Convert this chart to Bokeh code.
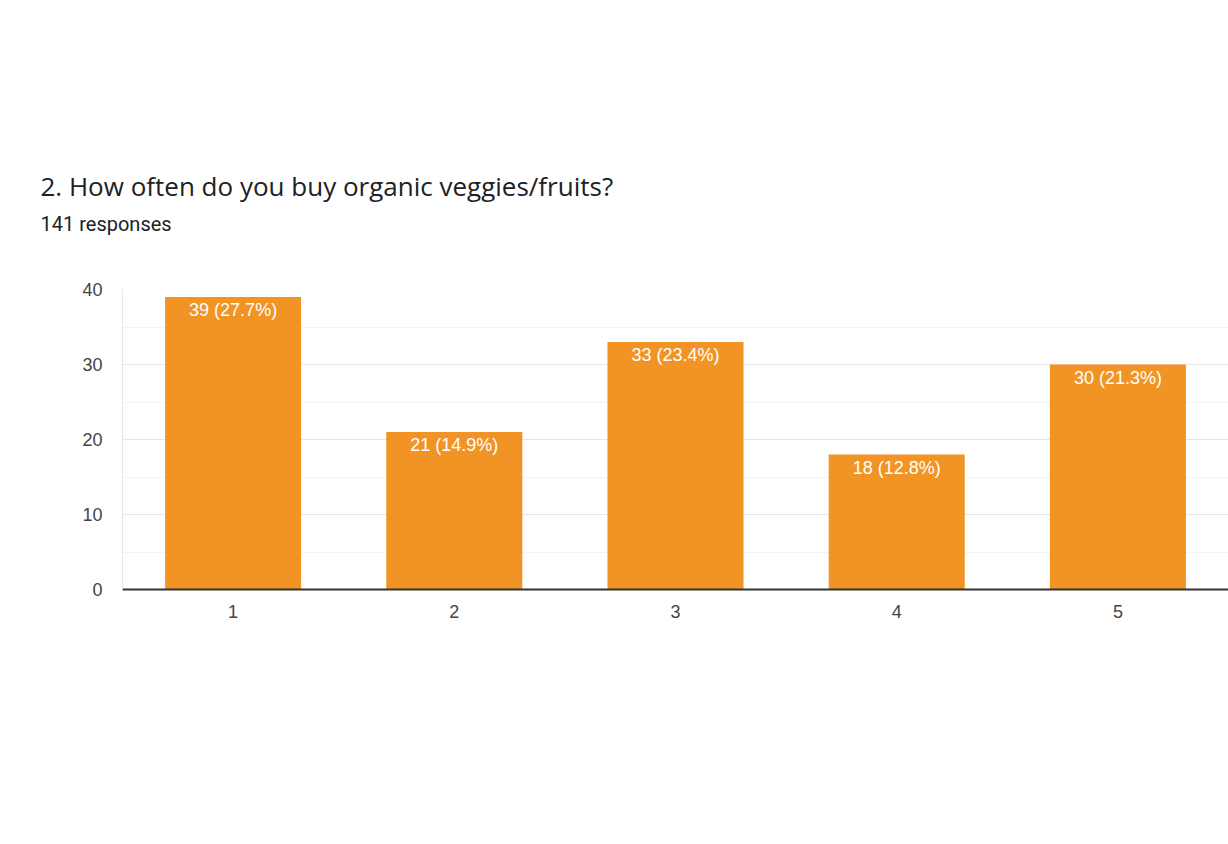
from bokeh.plotting import figure
from bokeh.models import ColumnDataSource, Title, FactorRange, Range1d, FixedTicker
from bokeh.embed import file_html
from bokeh.resources import INLINE

categories = ["1", "2", "3", "4", "5"]
counts = [39, 21, 33, 18, 30]
percents = ["27.7%", "14.9%", "23.4%", "12.8%", "21.3%"]
labels = [f"{c} ({p})" for c, p in zip(counts, percents)]
y_ticks = [0, 10, 20, 30, 40]

title_text = "2. How often do you buy organic veggies/fruits?"
subtitle_text = "141 responses"

src = ColumnDataSource(dict(cat=categories, val=counts, lab=labels))

FRAME_LEFT, FRAME_BOTTOM = 122, 589

p = figure(width=1228, height=844, x_range=FactorRange(*categories, range_padding=0),
           y_range=Range1d(0, 40), output_backend="svg", toolbar_location=None,
           title=None,
           min_border_left=FRAME_LEFT, min_border_right=0, min_border_top=289,
           min_border_bottom=844 - FRAME_BOTTOM)
p.outline_line_color = None

p.vbar(x="cat", top="val", width=0.615, source=src, color="#F29425", line_color=None)
p.text(x="cat", y="val", text="lab", source=src, text_align="center",
       text_baseline="top", y_offset=3, text_color="white",
       text_font_size="18px", text_font={"value": "Liberation Sans"})

p.xgrid.grid_line_color = None
p.ygrid.grid_line_color = "#e6e6e6"
p.ygrid.grid_line_width = 1
p.ygrid.minor_grid_line_color = "#f3f3f3"
p.yaxis.ticker = FixedTicker(ticks=y_ticks, minor_ticks=[5, 15, 25, 35])

for ax in (p.xaxis, p.yaxis):
    ax.major_tick_line_color = None
    ax.minor_tick_line_color = None
    ax.major_label_text_font = "Liberation Sans"
    ax.major_label_text_font_size = "18px"
    ax.major_label_text_color = "#444444"
p.yaxis.axis_line_color = "#e6e6e6"
p.yaxis.major_label_standoff = 14
p.xaxis.axis_line_color = "#333333"
p.xaxis.axis_line_width = 2
p.xaxis.major_label_standoff = 9

# spacer between the frame and the subtitle
p.add_layout(Title(text=" ", text_font_size="1px", standoff=51), "above")
p.add_layout(Title(text=subtitle_text, text_font="Roboto", text_font_size="20px",
                   text_font_style="normal", text_color="#202124",
                   align="left", offset=40 - FRAME_LEFT, standoff=0), "above")
p.add_layout(Title(text=title_text, text_font="Open Sans", text_font_size="26px",
                   text_font_style="normal", text_color="#202124",
                   align="left", offset=40 - FRAME_LEFT, standoff=11), "above")

open("out.html", "w").write(file_html(p, INLINE))
